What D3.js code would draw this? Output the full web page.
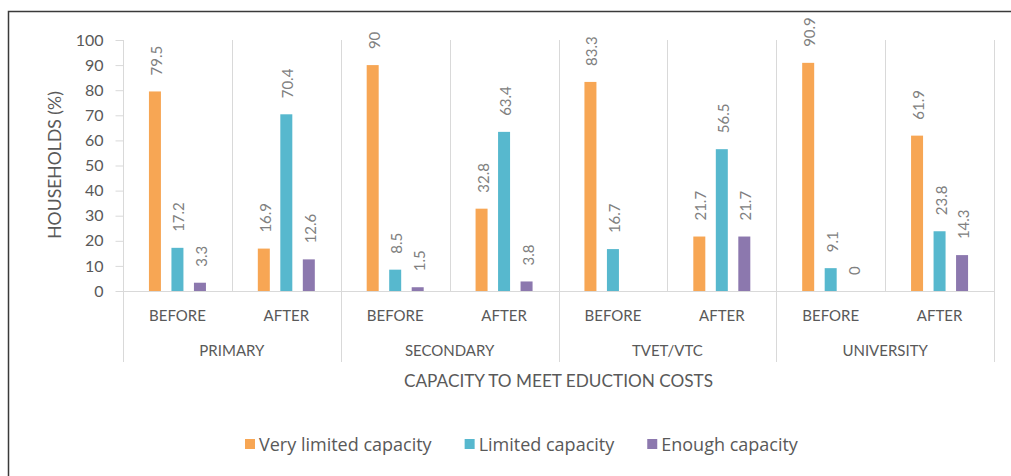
<!DOCTYPE html>
<html>
<head>
<meta charset="utf-8">
<script src="https://cdn.jsdelivr.net/npm/d3@7/dist/d3.min.js"></script>
<style>
  html, body { margin: 0; padding: 0; background: #fff; }
  svg { display: block; font-family: Lato, "Open Sans", sans-serif; }
</style>
</head>
<body>
<svg id="chart" width="1011" height="476"></svg>
<script>
// ---- data ----
const groups = ["PRIMARY", "SECONDARY", "TVET/VTC", "UNIVERSITY"];
const periods = ["BEFORE", "AFTER"];
const seriesNames = ["Very limited capacity", "Limited capacity", "Enough capacity"];
const veryLimited = [79.5, 16.9, 90, 32.8, 83.3, 21.7, 90.9, 61.9];
const limited     = [17.2, 70.4, 8.5, 63.4, 16.7, 56.5, 9.1, 23.8];
const enough      = [3.3, 12.6, 1.5, 3.8, null, 21.7, 0, 14.3];
const yTicks = [0, 10, 20, 30, 40, 50, 60, 70, 80, 90, 100];
const colors = ["#F7A654", "#57B8CE", "#8C78AE"];
const axisTitleX = "CAPACITY TO MEET EDUCTION COSTS";
const axisTitleY = "HOUSEHOLDS (%)";

// ---- layout ----
const svg = d3.select("#chart");
const plotL = 123, plotR = 994, plotT = 40, plotB = 291, groupLineBottom = 362;

// outer frame
svg.append("rect").attr("x", 8.5).attr("y", 11.5).attr("width", 1020).attr("height", 490)
  .attr("fill", "none").attr("stroke", "#3a3a3a").attr("stroke-width", 1.5);

const subcats = [];
groups.forEach(g => periods.forEach(p => subcats.push(g + "|" + p)));

const x = d3.scaleBand().domain(subcats).range([plotL, plotR]).padding(0);
const xg = d3.scaleBand().domain(groups).range([plotL, plotR]).padding(0);
const inner = d3.scalePoint().domain(seriesNames).range([-22.5, 22.5]);
const y = d3.scaleLinear().domain([0, 100]).range([plotB, plotT]);
const barW = 12;

const grid = "#d9d9d9";
subcats.forEach((s, i) => {
  if (i === 0) return;
  const gx = Math.round(x(s)) + 0.5;
  const isGroup = i % 2 === 0;
  svg.append("line").attr("x1", gx).attr("x2", gx).attr("y1", plotT)
    .attr("y2", isGroup ? groupLineBottom : plotB).attr("stroke", grid);
});
svg.append("line").attr("x1", plotR + 0.5).attr("x2", plotR + 0.5).attr("y1", plotT)
  .attr("y2", groupLineBottom).attr("stroke", grid);

// y axis
const yAxis = d3.axisLeft(y).tickValues(yTicks).tickSize(8).tickPadding(12).tickFormat(d3.format("d"));
const yg = svg.append("g").attr("transform", `translate(${plotL + 0.5},0)`).call(yAxis);
yg.select(".domain").remove();
yg.selectAll(".tick line").attr("stroke", grid);
yg.selectAll(".tick text").attr("fill", "#595959").attr("font-size", 16).attr("font-family", "Lato");
svg.append("line").attr("x1", plotL + 0.5).attr("x2", plotL + 0.5).attr("y1", plotT).attr("y2", groupLineBottom).attr("stroke", grid);

// x axis baseline
svg.append("line").attr("x1", plotL).attr("x2", plotR).attr("y1", plotB + 0.5).attr("y2", plotB + 0.5).attr("stroke", grid);

// bars
const series = [veryLimited, limited, enough];
series.forEach((vals, si) => {
  const name = seriesNames[si];
  const data = vals.map((v, i) => ({ v, s: subcats[i] })).filter(d => d.v !== null);
  svg.append("g").selectAll("rect").data(data).join("rect")
    .attr("x", d => x(d.s) + x.bandwidth() / 2 + inner(name) - barW / 2)
    .attr("y", d => y(d.v))
    .attr("width", barW)
    .attr("height", d => y(0) - y(d.v))
    .attr("fill", colors[si]);
  svg.append("g").selectAll("text").data(data).join("text")
    .attr("transform", d => `translate(${x(d.s) + x.bandwidth() / 2 + inner(name) + 1},${y(d.v) - 16}) rotate(-90)`)
    .attr("text-anchor", "start")
    .attr("dominant-baseline", "central")
    .attr("fill", "#808080")
    .attr("font-size", 15)
    .text(d => String(d.v));
});

// category labels
svg.append("g").selectAll("text").data(subcats).join("text")
  .attr("x", d => x(d) + x.bandwidth() / 2)
  .attr("y", 315)
  .attr("text-anchor", "middle").attr("dominant-baseline", "central")
  .attr("fill", "#595959").attr("font-size", 15)
  .text(d => d.split("|")[1]);
svg.append("g").selectAll("text").data(groups).join("text")
  .attr("x", d => xg(d) + xg.bandwidth() / 2)
  .attr("y", 350)
  .attr("text-anchor", "middle").attr("dominant-baseline", "central")
  .attr("fill", "#595959").attr("font-size", 15)
  .text(d => d);

// axis titles
svg.append("text").attr("x", (plotL + plotR) / 2).attr("y", 380)
  .attr("text-anchor", "middle").attr("dominant-baseline", "central")
  .attr("fill", "#595959").attr("font-size", 17.2).text(axisTitleX);
svg.append("text").attr("transform", "translate(54,165) rotate(-90)")
  .attr("text-anchor", "middle").attr("dominant-baseline", "central")
  .attr("fill", "#595959").attr("font-size", 17.6).text(axisTitleY);

// legend
let lx = 245;
const ly = 444;
seriesNames.forEach((n, i) => {
  svg.append("rect").attr("x", lx).attr("y", ly - 5).attr("width", 10).attr("height", 10).attr("fill", colors[i]);
  const t = svg.append("text").attr("x", lx + 14).attr("y", ly)
    .attr("dominant-baseline", "central").attr("fill", "#595959")
    .attr("font-family", "Open Sans").attr("font-size", 18).text(n);
  lx = lx + 14 + t.node().getComputedTextLength() + 33;
});
</script>
</body>
</html>
